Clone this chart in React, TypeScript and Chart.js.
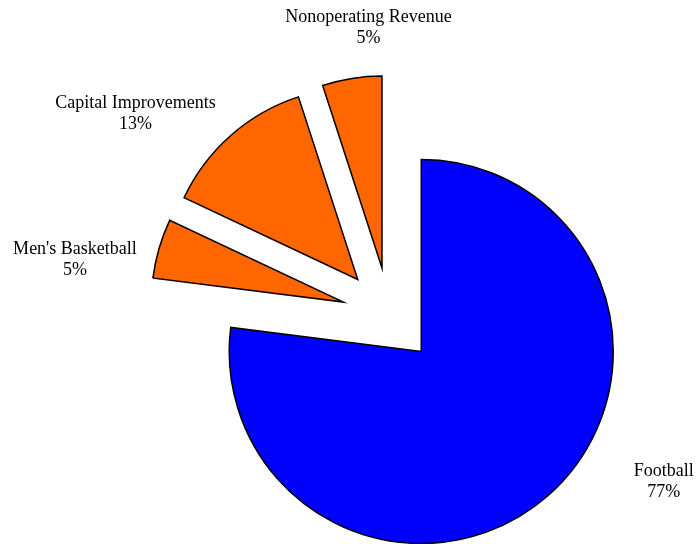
import React, { useEffect, useRef } from "react";
import { Chart, registerables, ArcElement } from "chart.js";

Chart.register(...registerables);

// Arc element that shifts the whole slice outward along its mid angle by `offset` pixels
class ExplodedArc extends (ArcElement as any) {
  static id = "explodedArc";
  draw(ctx: CanvasRenderingContext2D) {
    const self: any = this;
    const opts = self.options;
    const shift = opts.offset || 0;
    const half = (self.startAngle + self.endAngle) / 2;
    ctx.save();
    ctx.translate(Math.cos(half) * shift, Math.sin(half) * shift);
    self.options = Object.assign({}, opts, { offset: 0 });
    super.draw(ctx);
    self.options = opts;
    ctx.restore();
  }
}
Chart.register(ExplodedArc as any);
(Chart.defaults as any).datasets.pie.dataElementType = "explodedArc";

// ---- data ----
const categories = ["Football", "Men's Basketball", "Capital Improvements", "Nonoperating Revenue"];
const values = [77, 5, 13, 5];
const sliceColors = ["#0000FF", "#FF6600", "#FF6600", "#FF6600"];

// ---- label layout (polar, clockwise from 12 o'clock, relative to pie centre) ----
const labelAngles = [120.3, 281.0, 309.3, 355.9];
const labelRadii = [317.6, 320.4, 328.3, 293.9];

const labelPlugin = {
  id: "outsideLabels",
  afterDraw(chart: any) {
    const meta = chart.getDatasetMeta(0);
    if (!meta || !meta.data.length) return;
    const cx = meta.data[0].x;
    const cy = meta.data[0].y;
    const total = values.reduce((a, b) => a + b, 0);
    const ctx = chart.ctx;
    ctx.save();
    ctx.fillStyle = "#000";
    ctx.font = '18px "Liberation Serif", "Times New Roman", serif';
    ctx.textAlign = "center";
    ctx.textBaseline = "alphabetic";
    categories.forEach((name, i) => {
      const a = (labelAngles[i] * Math.PI) / 180;
      const x = cx + labelRadii[i] * Math.sin(a);
      const y = cy - labelRadii[i] * Math.cos(a);
      ctx.fillText(name, x, y);
      ctx.fillText(Math.round((values[i] / total) * 100) + "%", x, y + 21);
    });
    ctx.restore();
  },
};

export default function App() {
  const ref = useRef<HTMLCanvasElement | null>(null);
  useEffect(() => {
    if (!ref.current) return;
    const chart = new Chart(ref.current, {
      type: "pie",
      data: {
        labels: categories,
        datasets: [
          {
            data: values,
            backgroundColor: sliceColors,
            borderColor: "#000000",
            borderWidth: 1.5,
            borderJoinStyle: "miter",
            offset: 48,
          } as any,
        ],
      },
      options: {
        responsive: false,
        animation: false,
        devicePixelRatio: 1,
        radius: 192,
        rotation: 0,
        layout: { padding: { left: 100, right: 18, top: 100, bottom: 13 } },
        plugins: {
          legend: { display: false },
          tooltip: { enabled: false },
        },
      } as any,
      plugins: [labelPlugin],
    });
    return () => chart.destroy();
  }, []);
  return (
    <div style={{ position: "fixed", left: 0, top: 0, width: 697, height: 544, background: "#fff" }}>
      <canvas ref={ref} width={697} height={544} />
    </div>
  );
}
